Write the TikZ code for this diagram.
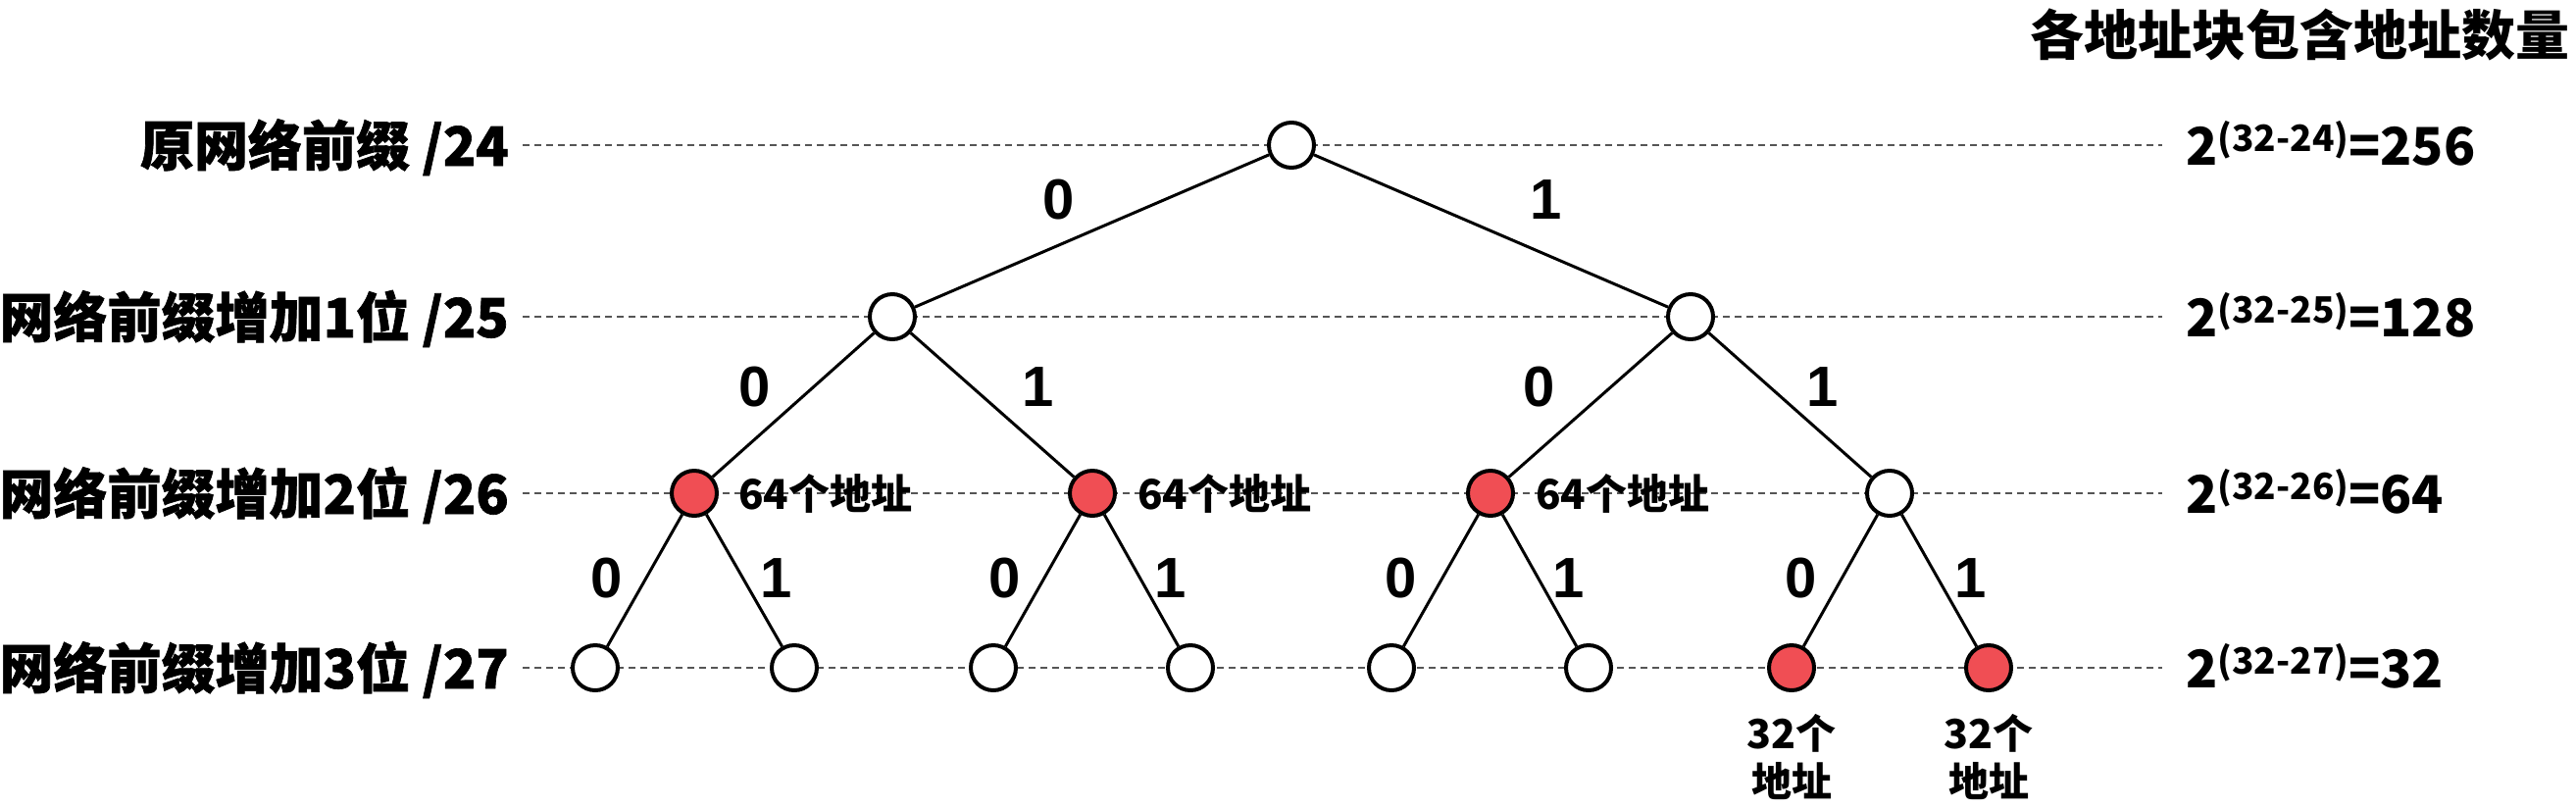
\documentclass[tikz,border=0pt]{standalone}
\usepackage{fontspec}
\newfontfamily\cjk{Noto Sans CJK SC}
\newfontfamily\cjkheavy{Noto Sans CJK SC}[FakeBold=1.2]
\newfontfamily\arl{Liberation Sans}
\definecolor{nodered}{RGB}{240,78,84}
\definecolor{guidegray}{RGB}{85,85,85}
\begin{document}
\begin{tikzpicture}[x=1pt,y=-1pt,
  nd/.style={circle,draw=black,line width=4pt,fill=white,minimum size=46pt,inner sep=0pt},
  rednd/.style={nd,fill=nodered},
  edge/.style={line width=3pt,draw=black},
  guide/.style={draw=guidegray,line width=2pt,dash pattern=on 7pt off 5pt},
  lvl/.style={font=\cjkheavy\bfseries\fontsize{55}{60}\selectfont,anchor=base east,inner sep=0pt},
  cnt/.style={font=\cjk\bfseries\fontsize{53}{60}\selectfont,anchor=base west,inner sep=0pt},
  bit/.style={font=\arl\bfseries\fontsize{58}{60}\selectfont,anchor=center,inner sep=0pt},
  addr/.style={font=\cjk\bfseries\fontsize{42}{48}\selectfont,anchor=base west,inner sep=0pt},
  addrb/.style={font=\cjk\bfseries\fontsize{41}{49}\selectfont,anchor=north,align=center,inner sep=0pt}
]
\useasboundingbox (0,0) rectangle (2627,823);

% guide lines
\foreach \i/\y in {0/148,1/323,2/503,3/681}{
  \coordinate (gl\i) at (533,\y);
  \coordinate (gr\i) at (2205,\y);
  \draw[guide] (gl\i) -- (gr\i);
}

% header
\node[font=\cjk\bfseries\fontsize{55}{60}\selectfont,anchor=base east,inner sep=0pt] (hdr) at (2621,56) {各地址块包含地址数量};

% left labels
\node[lvl] (l0) at (519,169) {原网络前缀 /24};
\node[lvl] (l1) at (519,344) {网络前缀增加1位 /25};
\node[lvl] (l2) at (519,524) {网络前缀增加2位 /26};
\node[lvl] (l3) at (519,702) {网络前缀增加3位 /27};

% right labels
\node[cnt] (n0) at (2229,168) {2\raisebox{14pt}{\fontsize{37}{40}\selectfont (32-24)}=256};
\node[cnt] (n1) at (2229,343) {2\raisebox{14pt}{\fontsize{37}{40}\selectfont (32-25)}=128};
\node[cnt] (n2) at (2229,523) {2\raisebox{14pt}{\fontsize{37}{40}\selectfont (32-26)}=64};
\node[cnt] (n3) at (2229,701) {2\raisebox{14pt}{\fontsize{37}{40}\selectfont (32-27)}=32};

% tree nodes
\node[nd] (r) at (1317,148) {};
\node[nd] (a0) at (910,323) {};
\node[nd] (a1) at (1724,323) {};
\node[rednd] (b0) at (708,503) {};
\node[rednd] (b1) at (1114,503) {};
\node[rednd] (b2) at (1520,503) {};
\node[nd] (b3) at (1927,503) {};
\node[nd] (c0) at (607,681) {};
\node[nd] (c1) at (810,681) {};
\node[nd] (c2) at (1013,681) {};
\node[nd] (c3) at (1214,681) {};
\node[nd] (c4) at (1419,681) {};
\node[nd] (c5) at (1620,681) {};
\node[rednd] (c6) at (1827,681) {};
\node[rednd] (c7) at (2028,681) {};

% edges
\draw[edge] (r) -- (a0);
\draw[edge] (r) -- (a1);
\draw[edge] (a0) -- (b0);
\draw[edge] (a0) -- (b1);
\draw[edge] (a1) -- (b2);
\draw[edge] (a1) -- (b3);
\draw[edge] (b0) -- (c0);
\draw[edge] (b0) -- (c1);
\draw[edge] (b1) -- (c2);
\draw[edge] (b1) -- (c3);
\draw[edge] (b2) -- (c4);
\draw[edge] (b2) -- (c5);
\draw[edge] (b3) -- (c6);
\draw[edge] (b3) -- (c7);

% bit labels
\node[bit] (e1) at (1080,204) {0};
\node[bit] (e2) at (1577,204) {1};
\node[bit] (e3) at (770,395) {0};
\node[bit] (e4) at (1059,395) {1};
\node[bit] (e5) at (1570,395) {0};
\node[bit] (e6) at (1859,395) {1};
\node[bit] (e7) at (619,590) {0};
\node[bit] (e8) at (792,590) {1};
\node[bit] (e9) at (1025,590) {0};
\node[bit] (e10) at (1194,590) {1};
\node[bit] (e11) at (1429,590) {0};
\node[bit] (e12) at (1600,590) {1};
\node[bit] (e13) at (1837,590) {0};
\node[bit] (e14) at (2010,590) {1};

% address counts
\node[addr] (t0) at (753,519) {64个地址};
\node[addr] (t1) at (1160,519) {64个地址};
\node[addr] (t2) at (1566,519) {64个地址};
\node[addrb] (t3) at (1827,728) {32个\\地址};
\node[addrb] (t4) at (2028,728) {32个\\地址};
\end{tikzpicture}
\end{document}
